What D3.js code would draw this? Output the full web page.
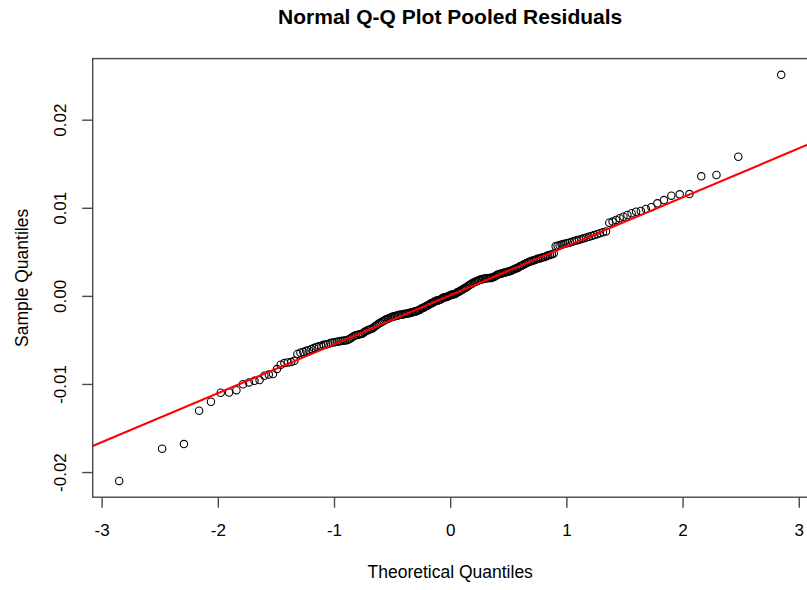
<!DOCTYPE html>
<html><head><meta charset="utf-8">
<script src="https://cdn.jsdelivr.net/npm/d3@7"></script>
<style>
body{margin:0;background:#fff}
svg{display:block}
text{font-family:"Liberation Sans",Arial,sans-serif;fill:#000}
</style>
</head><body>
<svg id="chart" width="807" height="590"></svg>
<script>
// ---------------- data ----------------
const chartTitle = "Normal Q-Q Plot Pooled Residuals";
const xAxisLabel = "Theoretical Quantiles";
const yAxisLabel = "Sample Quantiles";
const xTickValues = [-3, -2, -1, 0, 1, 2, 3];
const yTickValues = [-0.02, -0.01, 0.00, 0.01, 0.02];

// sorted pooled residuals (sample quantiles)
const residualsLower = [
  -0.02101, -0.01735, -0.01682, -0.01304, -0.01202, -0.01100, -0.01097, -0.01071, -0.01003, -0.00983,
  -0.00964, -0.00956, -0.00907, -0.00893, -0.00888, -0.00831, -0.00782, -0.00763, -0.00756, -0.00752,
  -0.00737, -0.00659, -0.00645, -0.00637, -0.00624, -0.00616, -0.00604, -0.00591, -0.00579, -0.00573,
  -0.00567, -0.00556, -0.00551, -0.00546, -0.00535, -0.00530, -0.00526, -0.00522, -0.00518, -0.00513,
  -0.00510, -0.00506, -0.00503, -0.00494, -0.00485, -0.00471, -0.00456, -0.00447, -0.00444, -0.00436,
  -0.00433, -0.00426, -0.00411, -0.00398, -0.00390, -0.00382, -0.00375, -0.00367, -0.00353, -0.00340,
  -0.00327, -0.00314
];
const residualsMiddle = [
  -0.00306, -0.00293, -0.00286, -0.00273, -0.00266, -0.00259, -0.00252, -0.00245, -0.00238, -0.00231,
  -0.00230, -0.00223, -0.00222, -0.00215, -0.00214, -0.00213, -0.00206, -0.00205,
  -0.00204, -0.00198, -0.00197, -0.00190, -0.00190, -0.00183, -0.00177, -0.00176, -0.00170, -0.00163,
  -0.00157, -0.00145, -0.00139, -0.00133, -0.00126, -0.00115, -0.00108, -0.00102, -0.00090, -0.00084,
  -0.00078, -0.00066, -0.00059, -0.00053, -0.00053, -0.00047, -0.00040, -0.00029, -0.00022, -0.00016,
  -0.00016, -0.00009, -0.00003, 0.00003,
  0.00009, 0.00015, 0.00015, 0.00022, 0.00028, 0.00040, 0.00046, 0.00052, 0.00064, 0.00070,
  0.00082, 0.00088, 0.00095, 0.00107,
  0.00119, 0.00125, 0.00137, 0.00143, 0.00155, 0.00161, 0.00167, 0.00173, 0.00180, 0.00186,
  0.00187, 0.00193, 0.00194, 0.00201, 0.00201, 0.00202, 0.00202,
  0.00204, 0.00210, 0.00216, 0.00223, 0.00236, 0.00242, 0.00249, 0.00250, 0.00257, 0.00263,
  0.00264, 0.00272, 0.00273, 0.00280, 0.00286
];
const residualsUpper = [
  0.00294, 0.00301, 0.00308, 0.00315, 0.00322, 0.00335, 0.00343, 0.00350, 0.00363, 0.00371,
  0.00379, 0.00387, 0.00394, 0.00402, 0.00404, 0.00412, 0.00421, 0.00423, 0.00431, 0.00439,
  0.00442, 0.00451, 0.00460, 0.00463, 0.00472, 0.00481,
  0.00564, 0.00569, 0.00575, 0.00582, 0.00588, 0.00595, 0.00600, 0.00607, 0.00615, 0.00622,
  0.00630, 0.00637, 0.00645, 0.00653, 0.00662, 0.00671, 0.00681, 0.00690, 0.00700, 0.00711,
  0.00721, 0.00732,
  0.00831, 0.00843, 0.00862, 0.00881, 0.00899, 0.00918, 0.00938, 0.00956, 0.00964, 0.00986,
  0.01006, 0.01051, 0.01088, 0.01137, 0.01153, 0.01156, 0.01357, 0.01372, 0.01579, 0.02509
];
const sampleQuantiles = residualsLower.concat(residualsMiddle, residualsUpper);

// ---------------- qqnorm machinery ----------------
function qnorm(p) {
  const a=[-3.969683028665376e+01,2.209460984245205e+02,-2.759285104469687e+02,1.383577518672690e+02,-3.066479806614716e+01,2.506628277459239e+00];
  const b=[-5.447609879822406e+01,1.615858368580409e+02,-1.556989798598866e+02,6.680131188771972e+01,-1.328068155288572e+01];
  const c=[-7.784894002430293e-03,-3.223964580411365e-01,-2.400758277161838e+00,-2.549732539343734e+00,4.374664141464968e+00,2.938163982698783e+00];
  const d=[7.784695709041462e-03,3.224671290700398e-01,2.445134137142996e+00,3.754408661907416e+00];
  const pl = 0.02425, ph = 1 - pl;
  let q, r;
  if (p < pl) { q = Math.sqrt(-2*Math.log(p));
    return (((((c[0]*q+c[1])*q+c[2])*q+c[3])*q+c[4])*q+c[5])/((((d[0]*q+d[1])*q+d[2])*q+d[3])*q+1); }
  if (p > ph) { q = Math.sqrt(-2*Math.log(1-p));
    return -(((((c[0]*q+c[1])*q+c[2])*q+c[3])*q+c[4])*q+c[5])/((((d[0]*q+d[1])*q+d[2])*q+d[3])*q+1); }
  q = p - 0.5; r = q*q;
  return (((((a[0]*r+a[1])*r+a[2])*r+a[3])*r+a[4])*r+a[5])*q/(((((b[0]*r+b[1])*r+b[2])*r+b[3])*r+b[4])*r+1);
}
const sorted = sampleQuantiles.slice().sort(d3.ascending);
const n = sorted.length;
const off = n <= 10 ? 3/8 : 0.5;   // R ppoints()
const theoretical = d3.range(n).map(i => qnorm((i + 1 - off) / (n + 1 - 2*off)));
const points = theoretical.map((t, i) => ({ x: t, y: sorted[i] }));

// qqline through the quartiles (R type 7 quantiles)
const yq = [d3.quantile(sorted, 0.25), d3.quantile(sorted, 0.75)];
const xq = [qnorm(0.25), qnorm(0.75)];
const slope = (yq[1] - yq[0]) / (xq[1] - xq[0]);
const intercept = yq[0] - slope * xq[0];

// ---------------- layout ----------------
const W = 807, H = 590;
const plot = { left: 92.7, right: 807.7, top: 58.6, bottom: 497.2 };
function extend(e) { const d = (e[1] - e[0]) * 0.04; return [e[0] - d, e[1] + d]; }
const x = d3.scaleLinear().domain(extend(d3.extent(theoretical))).range([plot.left, plot.right]);
const y = d3.scaleLinear().domain(extend(d3.extent(sorted))).range([plot.bottom, plot.top]);
const minus = s => s.replace("\u2212", "-");

const svg = d3.select("#chart");
svg.append("rect").attr("width", W).attr("height", H).attr("fill", "#fff");

svg.append("defs").append("clipPath").attr("id", "clip")
  .append("rect").attr("x", plot.left).attr("y", plot.top)
  .attr("width", plot.right - plot.left).attr("height", plot.bottom - plot.top);

// points
svg.append("g").selectAll("circle").data(points).join("circle")
  .attr("cx", d => x(d.x)).attr("cy", d => y(d.y)).attr("r", 3.7)
  .attr("fill", "none").attr("stroke", "#000").attr("stroke-width", 1.1);

// reference line
const xd = x.domain();
svg.append("line").attr("clip-path", "url(#clip)")
  .attr("x1", x(xd[0])).attr("y1", y(intercept + slope * xd[0]))
  .attr("x2", x(xd[1])).attr("y2", y(intercept + slope * xd[1]))
  .attr("stroke", "#ff0000").attr("stroke-width", 2);

// box
svg.append("rect").attr("x", plot.left).attr("y", plot.top)
  .attr("width", plot.right - plot.left).attr("height", plot.bottom - plot.top)
  .attr("fill", "none").attr("stroke", "#4a4a4a").attr("stroke-width", 1.4);

// x axis
const gx = svg.append("g").attr("transform", `translate(0,${plot.bottom})`)
  .call(d3.axisBottom(x).tickValues(xTickValues).tickSize(10.5).tickFormat(d => minus(d3.format("d")(d))));
gx.select(".domain").remove();
gx.selectAll(".tick line").attr("stroke", "#4a4a4a").attr("stroke-width", 1.4);
gx.selectAll(".tick text").attr("y", 38.8).attr("dy", 0).attr("font-size", 17).attr("fill", "#000")
  .style("font-family", '"Liberation Sans",Arial,sans-serif');

// y axis
const gy = svg.append("g").attr("transform", `translate(${plot.left},0)`)
  .call(d3.axisLeft(y).tickValues(yTickValues).tickSize(10.5).tickFormat(d => minus(d3.format(".2f")(d))));
gy.select(".domain").remove();
gy.selectAll(".tick line").attr("stroke", "#4a4a4a").attr("stroke-width", 1.4);
gy.selectAll(".tick text").attr("x", 0).attr("dy", 0).attr("text-anchor", "middle")
  .attr("transform", "translate(-26.5,0) rotate(-90)")
  .attr("font-size", 17).attr("fill", "#000")
  .style("font-family", '"Liberation Sans",Arial,sans-serif');

// labels
const cx = (plot.left + plot.right) / 2, cy = (plot.top + plot.bottom) / 2;
svg.append("text").attr("x", cx).attr("y", 24).attr("text-anchor", "middle")
  .attr("font-size", 21).attr("font-weight", "bold").text(chartTitle);
svg.append("text").attr("x", cx).attr("y", 578).attr("text-anchor", "middle")
  .attr("font-size", 17.5).text(xAxisLabel);
svg.append("text").attr("transform", `translate(28,${cy}) rotate(-90)`).attr("text-anchor", "middle")
  .attr("font-size", 17.5).text(yAxisLabel);
</script>
</body></html>
